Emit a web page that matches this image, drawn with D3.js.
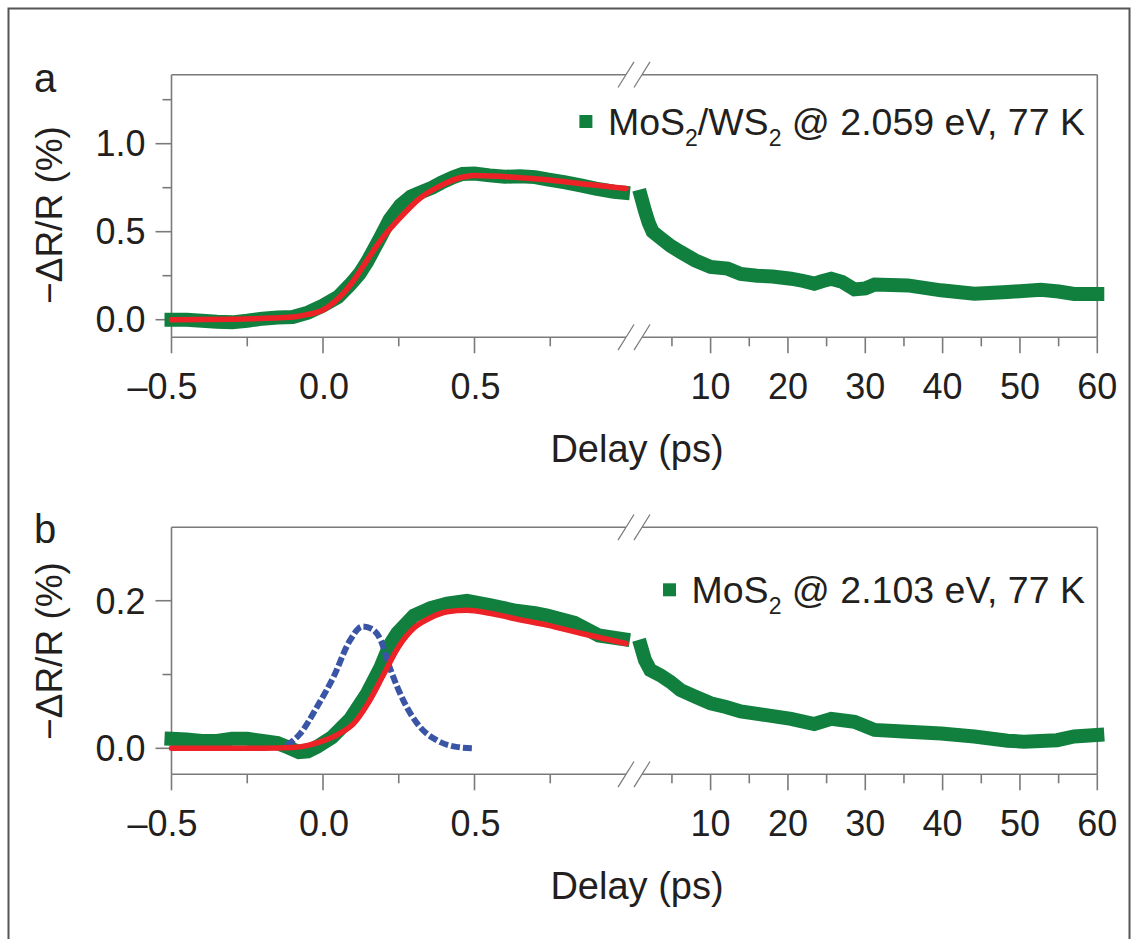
<!DOCTYPE html>
<html>
<head>
<meta charset="utf-8">
<script src="https://cdn.jsdelivr.net/npm/d3@7"></script>
<style>
  body { margin: 0; background: #fff; }
  text { font-family: "Liberation Sans", Arial, sans-serif; fill: #231f20; }
</style>
</head>
<body>
<div id="chart"></div>
<script>
// pump-probe traces, two panels with a broken delay axis

// panel a: MoS2/WS2 @ 2.059 eV
var aEarly = [
  [-0.5, 0.0], [-0.45, 0.0], [-0.4, -0.006], [-0.35, -0.012], [-0.3, -0.015], [-0.25, -0.006],
  [-0.2, 0.006], [-0.15, 0.012], [-0.1, 0.015], [-0.05, 0.04], [0.0, 0.08], [0.05, 0.13],
  [0.09, 0.2], [0.12, 0.26], [0.146, 0.33], [0.19, 0.47], [0.22, 0.57], [0.255, 0.65],
  [0.29, 0.7], [0.32, 0.722], [0.36, 0.75], [0.39, 0.778], [0.43, 0.81], [0.46, 0.828],
  [0.5, 0.83], [0.55, 0.82], [0.6, 0.812], [0.65, 0.815], [0.7, 0.81], [0.74, 0.797],
  [0.8, 0.78], [0.85, 0.763], [0.9, 0.745], [0.96, 0.727], [0.99, 0.722]
];
var aLate = [
  [1.0, 0.7], [1.5, 0.62], [2.0, 0.55], [2.5, 0.5], [3.5, 0.465], [4.8, 0.42], [6.1, 0.385],
  [8, 0.337], [10, 0.3], [12.2, 0.29], [13.9, 0.26], [16, 0.25], [18, 0.245], [20.4, 0.233],
  [22, 0.22], [23.4, 0.205], [24.5, 0.22], [25.6, 0.233], [27, 0.215], [28.6, 0.172],
  [30, 0.178], [31.2, 0.2], [35.5, 0.195], [39.8, 0.167], [44.1, 0.148], [46, 0.152],
  [48.4, 0.157], [52.7, 0.17], [55, 0.16], [57, 0.146], [60, 0.146]
];
var aFit = [
  [-0.5, 0.0], [-0.3, 0.003], [-0.1, 0.015], [-0.05, 0.03], [0.0, 0.055], [0.05, 0.12],
  [0.1, 0.22], [0.15, 0.35], [0.19, 0.45], [0.255, 0.58], [0.32, 0.69], [0.39, 0.763],
  [0.455, 0.808], [0.5, 0.82], [0.63, 0.81], [0.74, 0.795], [0.85, 0.773], [0.96, 0.753],
  [1.0, 0.745]
];

// panel b: MoS2 @ 2.103 eV
var bEarly = [
  [-0.5, 0.013], [-0.45, 0.012], [-0.4, 0.01], [-0.35, 0.01], [-0.3, 0.013], [-0.25, 0.013],
  [-0.2, 0.01], [-0.15, 0.007], [-0.12, 0.002], [-0.08, -0.005], [-0.05, -0.004], [-0.02, 0.002],
  [0.03, 0.015], [0.09, 0.04], [0.146, 0.075], [0.19, 0.11], [0.22, 0.14], [0.245, 0.156],
  [0.3, 0.18], [0.355, 0.19], [0.41, 0.196], [0.475, 0.2], [0.55, 0.194], [0.63, 0.187],
  [0.7, 0.183], [0.74, 0.18], [0.83, 0.17], [0.91, 0.153], [0.99, 0.148]
];
var bLate = [
  [1.0, 0.138], [1.5, 0.12], [2.2, 0.106], [3.5, 0.099], [4.8, 0.09], [6.1, 0.079], [8, 0.07],
  [10, 0.061], [12, 0.056], [13.9, 0.05], [16.5, 0.046], [20.4, 0.04], [23.4, 0.033],
  [25.6, 0.04], [28.6, 0.036], [31.2, 0.025], [35.5, 0.0225], [39.8, 0.02], [44.1, 0.016],
  [48.4, 0.0103], [50.5, 0.009], [54.8, 0.011], [57, 0.016], [60, 0.018]
];
var bFit = [
  [-0.5, 0.0], [-0.2, 0.0], [-0.1, 0.001], [-0.05, 0.004], [0.0, 0.01], [0.05, 0.019],
  [0.1, 0.033], [0.15, 0.062], [0.2, 0.1], [0.25, 0.138], [0.3, 0.163], [0.355, 0.177],
  [0.41, 0.185], [0.475, 0.187], [0.55, 0.183], [0.63, 0.176], [0.74, 0.167], [0.85, 0.156],
  [1.0, 0.142]
];
var bPulse = [
  [-0.12, 0.004], [-0.075, 0.02], [-0.02, 0.056], [0.035, 0.097], [0.09, 0.147], [0.13, 0.165],
  [0.16, 0.162], [0.19, 0.147], [0.22, 0.11], [0.265, 0.065], [0.32, 0.029], [0.375, 0.011],
  [0.44, 0.002], [0.5, 0.0]
];

// ticks
var earlyMajor = [-0.5, 0, 0.5];
var earlyMinor = [-0.25, 0.25, 0.75];
var lateMajor = [10, 20, 30, 40, 50, 60];
var lateMinor = [5, 15, 25, 35, 45, 55];
var aYMajor = [0, 0.5, 1.0];
var aYMinor = [0.25, 0.75, 1.25];
var bYMajor = [0, 0.2];
var bYMinor = [0.1];

var green = '#11803e', red = '#ec2227', blue = '#3a55a5', grey = '#7a7a7a';
var W = 1136, H = 939;

var svg = d3.select('#chart').append('svg')
    .attr('width', W)
    .attr('height', H);

svg.append('rect').attr('width', W).attr('height', H).attr('fill', '#fff');

// outer frame
svg.append('rect')
    .attr('x', 8.5).attr('y', 8.5).attr('width', 1121).attr('height', 960)
    .attr('fill', 'none').attr('stroke', '#555').attr('stroke-width', 2);

var left = 171.5, right = 1097.3, brk1 = 626, brk2 = 642;

var xL = d3.scaleLinear().domain([-0.5, 1.0]).range([left, 626]);
var xR = d3.scaleLinear().domain([1, 60]).range([641, right]);

function fmt(v) {
    if (v < 0) return '\u2013' + d3.format('.1f')(-v);
    return d3.format('.1f')(v);
}

function drawPanel(cfg) {
    var g = svg.append('g');
    var y = d3.scaleLinear().domain(cfg.yDomain).range([cfg.bottom, cfg.top]);

    // frame with broken top/bottom lines
    var frame = g.append('g').attr('stroke', grey).attr('stroke-width', 1.6).attr('fill', 'none');
    [cfg.top, cfg.bottom].forEach(function(yy) {
        frame.append('line').attr('x1', left).attr('x2', brk1).attr('y1', yy).attr('y2', yy);
        frame.append('line').attr('x1', brk2).attr('x2', right).attr('y1', yy).attr('y2', yy);
        [brk1, brk2].forEach(function(bx) {
            frame.append('line')
                .attr('x1', bx - 8).attr('y1', yy + 12.8)
                .attr('x2', bx + 8).attr('y2', yy - 12.8)
                .attr('stroke-width', 1.2);
        });
    });
    frame.append('line').attr('x1', left).attr('x2', left).attr('y1', cfg.top).attr('y2', cfg.bottom);
    frame.append('line').attr('x1', right).attr('x2', right).attr('y1', cfg.top).attr('y2', cfg.bottom);

    // x ticks
    var ticks = g.append('g').attr('stroke', grey).attr('stroke-width', 1.6);
    function xTick(xs, vals, len) {
        ticks.selectAll(null).data(vals).enter().append('line')
            .attr('x1', function(d) { return xs(d); })
            .attr('x2', function(d) { return xs(d); })
            .attr('y1', cfg.bottom).attr('y2', cfg.bottom + len);
    }
    xTick(xL, earlyMajor, 16);
    xTick(xL, earlyMinor, 9);
    xTick(xR, lateMajor, 16);
    xTick(xR, lateMinor, 9);

    // y ticks
    function yTick(vals, len) {
        ticks.selectAll(null).data(vals).enter().append('line')
            .attr('x1', left - len).attr('x2', left)
            .attr('y1', function(d) { return y(d); })
            .attr('y2', function(d) { return y(d); });
    }
    yTick(cfg.yMajor, 16);
    yTick(cfg.yMinor, 9);

    // tick labels
    g.selectAll(null).data(earlyMajor).enter().append('text')
        .attr('x', function(d) { return xL(d) + 26; })
        .attr('y', cfg.bottom + 62)
        .attr('text-anchor', 'end')
        .style('font-size', '36px')
        .text(fmt);
    g.selectAll(null).data(lateMajor).enter().append('text')
        .attr('x', function(d) { return xR(d); })
        .attr('y', cfg.bottom + 62)
        .attr('text-anchor', 'middle')
        .style('font-size', '36px')
        .text(function(d) { return d; });
    g.selectAll(null).data(cfg.yMajor).enter().append('text')
        .attr('x', left - 26)
        .attr('y', function(d) { return y(d) + 12.8; })
        .attr('text-anchor', 'end')
        .style('font-size', '36px')
        .text(function(d) { return d3.format('.1f')(d); });

    // axis titles
    g.append('text')
        .attr('x', 637).attr('y', cfg.bottom + 125)
        .attr('text-anchor', 'middle')
        .style('font-size', '38px')
        .text('Delay (ps)');
    g.append('text')
        .attr('transform', 'translate(62,' + cfg.titleY + ') rotate(-90)')
        .attr('text-anchor', 'middle')
        .style('font-size', '37px')
        .text('\u2212\u0394R/R (%)');

    // panel letter
    g.append('text')
        .attr('x', 34).attr('y', cfg.letterY)
        .style('font-size', '40px')
        .text(cfg.letter);

    // data
    var lineL = d3.line().x(function(d) { return xL(d[0]); }).y(function(d) { return y(d[1]); });
    var lineR = d3.line().x(function(d) { return xR(d[0]); }).y(function(d) { return y(d[1]); });
    var fitLine = d3.line().curve(d3.curveMonotoneX)
        .x(function(d) { return xL(d[0]); }).y(function(d) { return y(d[1]); });

    [[cfg.early, lineL], [cfg.late, lineR]].forEach(function(s) {
        g.append('path')
            .attr('d', s[1](s[0]))
            .attr('fill', 'none')
            .attr('stroke', green)
            .attr('stroke-width', 14)
            .attr('stroke-linecap', 'square')
            .attr('stroke-linejoin', 'miter');
    });

    if (cfg.pulse) {
        g.append('path')
            .attr('d', fitLine(cfg.pulse))
            .attr('fill', 'none')
            .attr('stroke', blue)
            .attr('stroke-width', 6)
            .attr('stroke-dasharray', '9,3');
    }

    g.append('path')
        .attr('d', fitLine(cfg.fit))
        .attr('fill', 'none')
        .attr('stroke', red)
        .attr('stroke-width', 5.5)
        .attr('stroke-linecap', 'round');

    // legend
    var leg = g.append('text')
        .attr('x', 1085).attr('y', cfg.legendY)
        .attr('text-anchor', 'end')
        .style('font-size', '37.5px');
    cfg.legend.forEach(function(part) {
        if (part.sub) {
            leg.append('tspan').attr('dy', 11).style('font-size', '23px').text(part.t);
        } else {
            leg.append('tspan').attr('dy', part.back ? -11 : 0).text(part.t);
        }
    });
    var bb = leg.node().getBBox();
    g.append('rect')
        .attr('x', bb.x - 28.5).attr('y', cfg.legendY - 20)
        .attr('width', 13).attr('height', 13)
        .attr('fill', green);
}

drawPanel({
    letter: 'a', letterY: 91.5,
    top: 74.7, bottom: 337.3,
    yDomain: [-0.1, 1.392],
    yMajor: aYMajor, yMinor: aYMinor,
    titleY: 215,
    early: aEarly, late: aLate, fit: aFit,
    legendY: 135,
    legend: [{t: 'MoS'}, {t: '2', sub: true}, {t: '/WS', back: true}, {t: '2', sub: true},
             {t: ' @ 2.059 eV, 77 K', back: true}]
});

drawPanel({
    letter: 'b', letterY: 543,
    top: 527.3, bottom: 774.3,
    yDomain: [-0.0352, 0.2995],
    yMajor: bYMajor, yMinor: bYMinor,
    titleY: 651,
    early: bEarly, late: bLate, fit: bFit, pulse: bPulse,
    legendY: 603.3,
    legend: [{t: 'MoS'}, {t: '2', sub: true}, {t: ' @ 2.103 eV, 77 K', back: true}]
});
</script>
</body>
</html>
